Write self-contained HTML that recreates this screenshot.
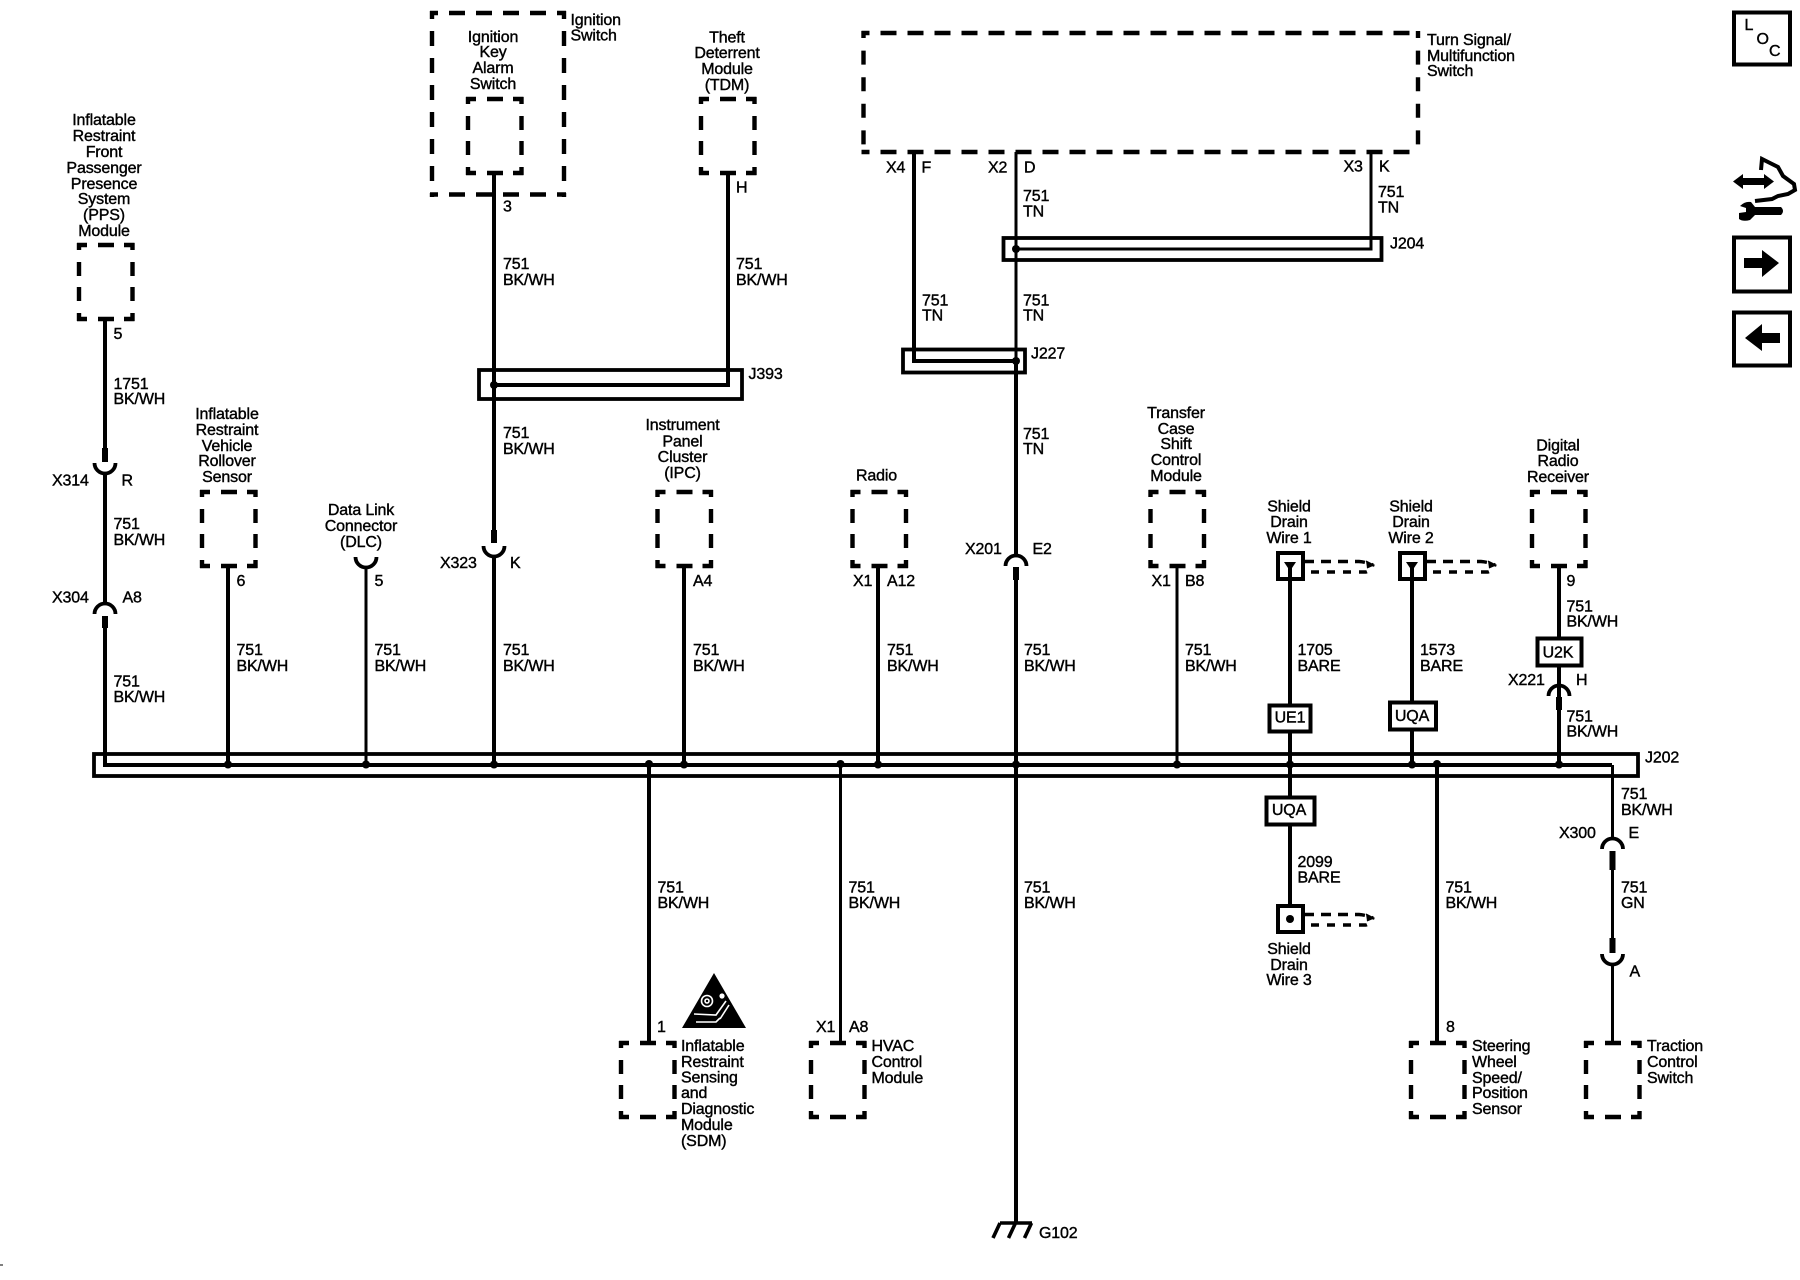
<!DOCTYPE html>
<html><head><meta charset="utf-8"><style>
html,body{margin:0;padding:0;background:#fff}
svg{display:block}
text{font-family:"Liberation Sans",sans-serif;font-size:16px;fill:#000;stroke:#000;stroke-width:.4px;letter-spacing:-.15px}
.c{text-anchor:middle}
.l{fill:none;stroke:#000;stroke-width:4}
.s{fill:none;stroke:#000;stroke-width:6}
.t{fill:none;stroke:#000;stroke-width:3}
.bx{fill:#fff;stroke:#000;stroke-width:4}
</style></head><body>
<svg width="1800" height="1280" viewBox="0 0 1800 1280" xmlns="http://www.w3.org/2000/svg">
<defs>
<g id="m" fill="none" stroke="#000" stroke-width="4.4"><path d="M-1 2H9M20 2H36M46 2H56.500M-1 76H9M20 76H36M46 76H56.500M1 0V7M1 19V33M1 44V58M1 70V78M54.500 0V7M54.500 19V33M54.500 44V58M54.500 70V78"/></g>
<g id="up" fill="none" stroke="#000"><path d="M-10.500 0A10.500 10.500 0 0 1 10.500 0" stroke-width="3.800"/></g>
<g id="dn" fill="none" stroke="#000"><path d="M-10.500 0A10.500 10.500 0 0 0 10.500 0" stroke-width="3.800"/></g>
<g id="sh" fill="none" stroke="#000" stroke-width="3.400"><path d="M0 -4.500H55Q62 -4 69 -1" stroke-dasharray="10 7"/><path d="M7 6H62Q66 5 69 -1" stroke-dasharray="8 8"/><path d="M62 -5L70 -1L63 2" fill="#000" stroke-width="1"/></g>
</defs>

<!-- module boxes -->
<use href="#m" x="78" y="243"/><use href="#m" x="467" y="97"/><use href="#m" x="700" y="97"/>
<use href="#m" x="201" y="490"/><use href="#m" x="656.500" y="490"/><use href="#m" x="851.500" y="490"/>
<use href="#m" x="1149.500" y="490"/><use href="#m" x="1531" y="490"/>
<use href="#m" x="620" y="1041"/><use href="#m" x="810" y="1041"/><use href="#m" x="1410" y="1041"/><use href="#m" x="1585" y="1041"/>

<!-- large dashed boxes -->
<g fill="none" stroke="#000" stroke-width="4.400">
<path d="M430 13H566M430 194.500H566" stroke-dasharray="16 11" stroke-dashoffset="8"/>
<path d="M432 11V197M564 11V197" stroke-dasharray="15 12" stroke-dashoffset="7"/>
<path d="M861.500 33H1420M861.500 152H1420" stroke-dasharray="16 11" stroke-dashoffset="8"/>
<path d="M863.500 31V154M1418 31V154" stroke-dasharray="14 12.600" stroke-dashoffset="7"/>
</g>

<!-- splice bars -->
<g fill="none" stroke="#000" stroke-width="3.800">
<rect x="479" y="370" width="263" height="29"/>
<rect x="903" y="349.500" width="122" height="23"/>
<rect x="1003.500" y="238" width="378" height="22"/>
<rect x="94" y="754" width="1544" height="22"/>
</g>

<!-- wires -->
<path class="l" d="M105 318V462M105 474V603M105 628V765H1612"/>
<path class="s" d="M105 448V462M105 616V628"/>
<path class="l" d="M494 173V530M494 557V764M494 385H728V173"/>
<path class="s" d="M494 530V543"/>
<path class="l" d="M914 152V361H1016"/>
<path class="t" d="M1016 152V361"/>
<path class="l" d="M1016 361V555M1016 580V1223"/>
<path class="s" d="M1016 567V580"/>
<path class="t" d="M1371 152V249H1016"/>
<path class="l" d="M228 567V764M684 567V764M878 567V764M649 764V1043M1437 764V1043"/>
<path class="t" d="M366 567V764M1177 567V764M840.500 764V1043"/>
<path class="l" d="M1290 566V905"/>
<path class="l" d="M1412 566V764"/>
<path class="l" d="M1559 567V697M1559 710V764"/>
<path class="s" d="M1559 697V710"/>
<path class="t" d="M1612.500 765V838M1612.500 870V938M1612.500 964V1043"/>
<path class="s" d="M1612.500 851V870M1612.500 938V953"/>

<!-- connectors -->
<use href="#dn" x="105" y="463"/><use href="#up" x="105" y="614"/>
<use href="#dn" x="366" y="557"/><use href="#dn" x="494" y="546"/>
<use href="#up" x="1016" y="566"/><use href="#up" x="1559" y="696"/>
<use href="#up" x="1612.500" y="849"/><use href="#dn" x="1612.500" y="954"/>

<!-- dots -->
<g fill="#000">
<circle cx="228" cy="764.500" r="4"/><circle cx="366" cy="764.500" r="4"/><circle cx="494" cy="764.500" r="4"/>
<circle cx="649" cy="764" r="4"/><circle cx="684" cy="764.500" r="4"/><circle cx="840.500" cy="764" r="4"/>
<circle cx="878" cy="764.500" r="4"/><circle cx="1016" cy="764.500" r="4"/><circle cx="1177" cy="764.500" r="4"/>
<circle cx="1290" cy="764.500" r="4"/><circle cx="1412" cy="764.500" r="4"/><circle cx="1437" cy="764" r="4"/><circle cx="1559" cy="764.500" r="4"/>
<circle cx="494" cy="385" r="4"/><circle cx="1016" cy="249" r="4"/><circle cx="1016" cy="361" r="4"/>
<path d="M1284 562H1296L1290 571Z"/><path d="M1406 562H1418L1412 571Z"/><circle cx="1290" cy="919" r="4"/>
</g>

<!-- shield squares -->
<rect class="bx" style="fill:none" x="1278" y="553" width="25" height="26"/>
<rect class="bx" style="fill:none" x="1400" y="553" width="25" height="26"/>
<rect class="bx" style="fill:none" x="1278" y="906" width="25" height="26"/>
<use href="#sh" x="1304" y="566"/><use href="#sh" x="1426" y="566"/><use href="#sh" x="1304" y="919"/>

<!-- option boxes -->
<rect class="bx" x="1269.500" y="705.500" width="41" height="26"/>
<rect class="bx" x="1266.500" y="797.500" width="48" height="27"/>
<rect class="bx" x="1390" y="702.500" width="46" height="27"/>
<rect class="bx" x="1537.500" y="638.500" width="44" height="27"/>

<!-- ground -->
<path d="M1000 1223H1032M1000 1223L993 1238M1015.500 1223L1008.500 1238M1031.500 1223L1024.500 1238" fill="none" stroke="#000" stroke-width="3.600"/>

<!-- warning triangle -->
<path d="M714 973L746 1028H682Z" fill="#000"/>
<g fill="none" stroke="#fff" stroke-width="1.600"><circle cx="707" cy="1001" r="5.500"/><circle cx="707" cy="1001" r="2"/><path d="M694 1014L716 1015L726 1001M696 1022H716L720 1018M720 1019L729 1005"/><circle cx="722" cy="996" r="1.800" fill="#fff"/></g>

<!-- right icons -->
<rect class="bx" style="fill:none" x="1734" y="12.500" width="56" height="52"/>
<rect class="bx" style="fill:none" x="1734" y="237.500" width="56" height="54"/>
<rect class="bx" style="fill:none" x="1734" y="312.500" width="56" height="53"/>
<path d="M1744 258H1762V250L1779 263L1762 277V268H1744Z" fill="#000"/>
<path d="M1780 333H1762V324L1745 338L1762 351V343H1780Z" fill="#000"/>
<path d="M1733 181.500L1743 174V178H1764V174L1774 181.500L1764 189V185H1743V189Z" fill="#000"/>
<path d="M1761 170L1762 159L1770 163L1778 167L1783 176L1794 184L1795 190L1788 194L1778 196L1772 199L1755 201" fill="none" stroke="#000" stroke-width="4"/>
<path d="M1755 207H1781Q1785 211 1781 215H1755L1750 220Q1743 222 1739 219V213L1746 212V208L1740 206Q1745 201 1751 202Z" fill="#000"/>
<path d="M0 1265H3" stroke="#000" stroke-width="1"/>

<!-- Labels -->
<text class="c"><tspan x="104" y="125">Inflatable</tspan><tspan x="104" y="141">Restraint</tspan><tspan x="104" y="157">Front</tspan><tspan x="104" y="173">Passenger</tspan><tspan x="104" y="189">Presence</tspan><tspan x="104" y="204">System</tspan><tspan x="104" y="220">(PPS)</tspan><tspan x="104" y="236">Module</tspan></text>
<text class="c"><tspan x="493" y="42">Ignition</tspan><tspan x="493" y="57">Key</tspan><tspan x="493" y="73">Alarm</tspan><tspan x="493" y="89">Switch</tspan></text>
<text><tspan x="570.500" y="25">Ignition</tspan><tspan x="570.500" y="40.500">Switch</tspan></text>
<text class="c"><tspan x="727" y="42.500">Theft</tspan><tspan x="727" y="58">Deterrent</tspan><tspan x="727" y="74">Module</tspan><tspan x="727" y="90">(TDM)</tspan></text>
<text><tspan x="1427" y="45">Turn Signal/</tspan><tspan x="1427" y="61">Multifunction</tspan><tspan x="1427" y="76">Switch</tspan></text>
<text x="886" y="172.500">X4</text><text x="921.500" y="172.500">F</text><text x="988" y="172.500">X2</text><text x="1024" y="172.500">D</text>
<text x="1343.500" y="171.500">X3</text><text x="1379" y="171.500">K</text>
<text><tspan x="1378" y="197">751</tspan><tspan x="1378" y="212.500">TN</tspan></text>
<text><tspan x="1023" y="201">751</tspan><tspan x="1023" y="216.500">TN</tspan></text>
<text><tspan x="922" y="305.500">751</tspan><tspan x="922" y="320.500">TN</tspan></text>
<text><tspan x="1023" y="305.500">751</tspan><tspan x="1023" y="320.500">TN</tspan></text>
<text><tspan x="1023" y="439">751</tspan><tspan x="1023" y="454">TN</tspan></text>
<text x="1390" y="248.500">J204</text><text x="1031" y="358.500">J227</text><text x="748.500" y="379">J393</text><text x="1645" y="762.500">J202</text>
<text x="503" y="211.500">3</text><text x="736" y="192.500">H</text><text x="113.500" y="339">5</text>
<text><tspan x="113.500" y="389">1751</tspan><tspan x="113.500" y="404">BK/WH</tspan></text>
<text><tspan x="503" y="269">751</tspan><tspan x="503" y="285">BK/WH</tspan></text>
<text><tspan x="736" y="269">751</tspan><tspan x="736" y="285">BK/WH</tspan></text>
<text><tspan x="503" y="438">751</tspan><tspan x="503" y="454">BK/WH</tspan></text>
<text class="c"><tspan x="227" y="419">Inflatable</tspan><tspan x="227" y="435">Restraint</tspan><tspan x="227" y="451">Vehicle</tspan><tspan x="227" y="466">Rollover</tspan><tspan x="227" y="482">Sensor</tspan></text>
<text class="c"><tspan x="361" y="515">Data Link</tspan><tspan x="361" y="531">Connector</tspan><tspan x="361" y="547">(DLC)</tspan></text>
<text x="52" y="485.500">X314</text><text x="121.500" y="485.500">R</text>
<text><tspan x="113.500" y="529">751</tspan><tspan x="113.500" y="545">BK/WH</tspan></text>
<text x="52" y="602.500">X304</text><text x="122.500" y="602.500">A8</text>
<text><tspan x="113.500" y="686.500">751</tspan><tspan x="113.500" y="702">BK/WH</tspan></text>
<text x="236.500" y="586">6</text><text><tspan x="236.500" y="655">751</tspan><tspan x="236.500" y="671">BK/WH</tspan></text>
<text x="374.500" y="586">5</text><text><tspan x="374.500" y="655">751</tspan><tspan x="374.500" y="671">BK/WH</tspan></text>
<text x="440" y="568">X323</text><text x="510" y="568">K</text>
<text><tspan x="503" y="655">751</tspan><tspan x="503" y="671">BK/WH</tspan></text>
<text class="c"><tspan x="682.500" y="430">Instrument</tspan><tspan x="682.500" y="446.500">Panel</tspan><tspan x="682.500" y="462">Cluster</tspan><tspan x="682.500" y="478">(IPC)</tspan></text>
<text x="693" y="586">A4</text><text><tspan x="693" y="655">751</tspan><tspan x="693" y="671">BK/WH</tspan></text>
<text class="c" x="876.500" y="480.500">Radio</text>
<text x="853" y="586">X1</text><text x="887" y="586">A12</text>
<text><tspan x="887" y="655">751</tspan><tspan x="887" y="671">BK/WH</tspan></text>
<text x="965" y="554">X201</text><text x="1032.500" y="554">E2</text>
<text><tspan x="1024" y="655">751</tspan><tspan x="1024" y="671">BK/WH</tspan></text>
<text class="c"><tspan x="1176" y="418">Transfer</tspan><tspan x="1176" y="434">Case</tspan><tspan x="1176" y="449">Shift</tspan><tspan x="1176" y="465">Control</tspan><tspan x="1176" y="481">Module</tspan></text>
<text x="1151.500" y="586">X1</text><text x="1185" y="586">B8</text>
<text><tspan x="1185" y="655">751</tspan><tspan x="1185" y="671">BK/WH</tspan></text>
<text class="c"><tspan x="1289" y="511.500">Shield</tspan><tspan x="1289" y="527">Drain</tspan><tspan x="1289" y="543">Wire 1</tspan></text>
<text class="c"><tspan x="1411" y="511.500">Shield</tspan><tspan x="1411" y="527">Drain</tspan><tspan x="1411" y="543">Wire 2</tspan></text>
<text><tspan x="1297.500" y="655">1705</tspan><tspan x="1297.500" y="671">BARE</tspan></text>
<text><tspan x="1420" y="655">1573</tspan><tspan x="1420" y="671">BARE</tspan></text>
<text class="c" x="1290" y="722.500">UE1</text><text class="c" x="1412" y="721">UQA</text><text class="c" x="1289" y="815">UQA</text><text class="c" x="1558" y="657.500">U2K</text>
<text class="c"><tspan x="1558" y="450.500">Digital</tspan><tspan x="1558" y="466">Radio</tspan><tspan x="1558" y="482">Receiver</tspan></text>
<text x="1566.500" y="586">9</text>
<text><tspan x="1566.500" y="611.500">751</tspan><tspan x="1566.500" y="626.500">BK/WH</tspan></text>
<text x="1508" y="685">X221</text><text x="1576" y="685">H</text>
<text><tspan x="1566.500" y="721.500">751</tspan><tspan x="1566.500" y="736.500">BK/WH</tspan></text>
<text><tspan x="1621" y="799">751</tspan><tspan x="1621" y="815">BK/WH</tspan></text>
<text x="1559" y="838">X300</text><text x="1628.500" y="838">E</text>
<text><tspan x="1621" y="892.500">751</tspan><tspan x="1621" y="908">GN</tspan></text>
<text x="1629.500" y="976.500">A</text>
<text><tspan x="1297.500" y="867">2099</tspan><tspan x="1297.500" y="882.500">BARE</tspan></text>
<text class="c"><tspan x="1289" y="954">Shield</tspan><tspan x="1289" y="970">Drain</tspan><tspan x="1289" y="985">Wire 3</tspan></text>
<text><tspan x="1445.500" y="892.500">751</tspan><tspan x="1445.500" y="908">BK/WH</tspan></text>
<text><tspan x="657.500" y="892.500">751</tspan><tspan x="657.500" y="908">BK/WH</tspan></text>
<text><tspan x="848.500" y="892.500">751</tspan><tspan x="848.500" y="908">BK/WH</tspan></text>
<text><tspan x="1024" y="892.500">751</tspan><tspan x="1024" y="908">BK/WH</tspan></text>
<text x="657" y="1032">1</text><text x="816" y="1032">X1</text><text x="849" y="1032">A8</text><text x="1446" y="1032">8</text>
<text><tspan x="681" y="1051">Inflatable</tspan><tspan x="681" y="1067">Restraint</tspan><tspan x="681" y="1082.500">Sensing</tspan><tspan x="681" y="1098">and</tspan><tspan x="681" y="1114">Diagnostic</tspan><tspan x="681" y="1130">Module</tspan><tspan x="681" y="1146">(SDM)</tspan></text>
<text><tspan x="871.500" y="1051">HVAC</tspan><tspan x="871.500" y="1067">Control</tspan><tspan x="871.500" y="1083">Module</tspan></text>
<text><tspan x="1472" y="1051">Steering</tspan><tspan x="1472" y="1067">Wheel</tspan><tspan x="1472" y="1083">Speed/</tspan><tspan x="1472" y="1098">Position</tspan><tspan x="1472" y="1114">Sensor</tspan></text>
<text><tspan x="1647" y="1051">Traction</tspan><tspan x="1647" y="1067">Control</tspan><tspan x="1647" y="1083">Switch</tspan></text>
<text x="1039" y="1238">G102</text>
<text x="1744.500" y="30">L</text><text x="1756.500" y="44">O</text><text x="1769" y="56">C</text>
</svg>
</body></html>
